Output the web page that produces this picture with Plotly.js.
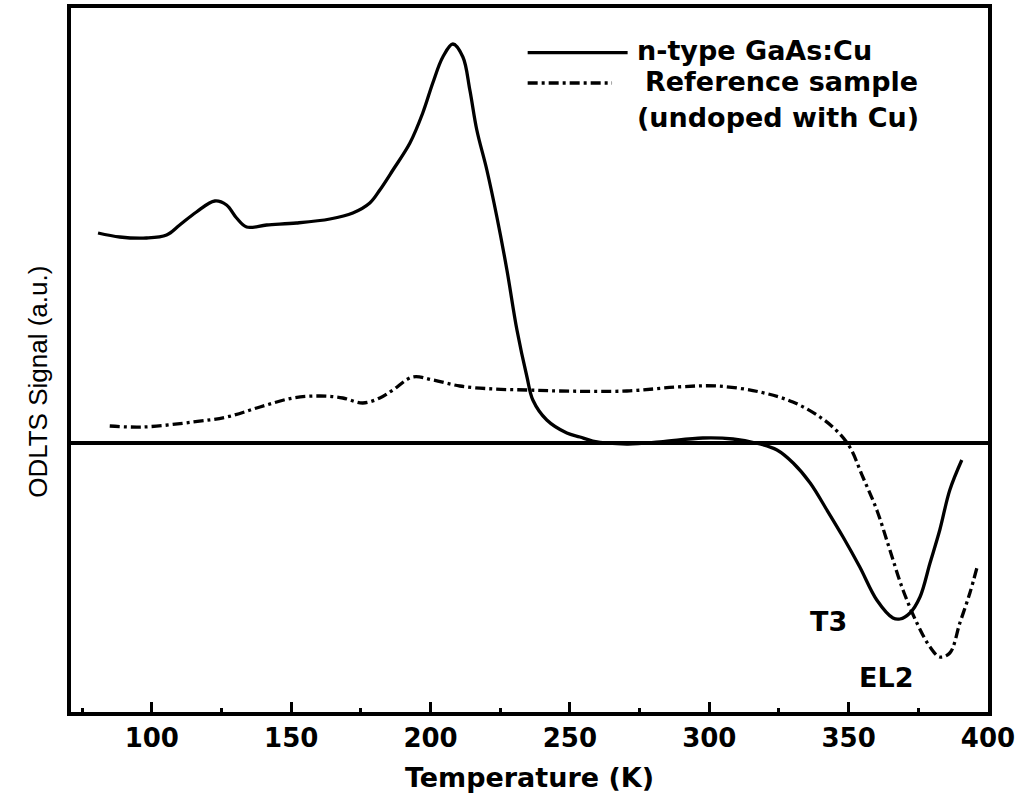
<!DOCTYPE html>
<html>
<head>
<meta charset="utf-8">
<script src="https://cdn.plot.ly/plotly-3.0.1.min.js"></script>
<style>
  html, body { margin: 0; padding: 0; background: #fff; }
  #chart { width: 1026px; height: 796px; }
</style>
</head>
<body>
<div id="chart"></div>
<script>
// n-type GaAs:Cu (solid)
const tempCu = [80.7, 88.5, 98.1, 105.3, 110.0, 116.0, 122.6, 126.8, 130.4, 134.0, 141.2, 151.9, 163.9, 172.1, 178.2, 181.8, 186.5, 192.6, 197.2, 200.8, 204.4, 208.0, 211.6, 214.1, 216.6, 220.2, 223.8, 227.4, 231.0, 234.6, 236.7, 241.7, 248.9, 253.6, 258.2, 270.4, 282.3, 297.7, 308.5, 318.2, 324.3, 330.1, 336.2, 342.2, 348.0, 354.0, 360.1, 365.9, 368.4, 372.0, 375.6, 379.2, 382.7, 386.3, 390.6];
const signalCu = [2.10, 2.06, 2.05, 2.08, 2.18, 2.31, 2.42, 2.38, 2.25, 2.16, 2.18, 2.20, 2.24, 2.30, 2.40, 2.53, 2.73, 3.00, 3.30, 3.60, 3.86, 3.99, 3.86, 3.53, 3.13, 2.73, 2.26, 1.73, 1.13, 0.66, 0.43, 0.23, 0.10, 0.06, 0.02, -0.01, 0.01, 0.05, 0.04, -0.01, -0.07, -0.20, -0.40, -0.67, -0.94, -1.24, -1.57, -1.75, -1.76, -1.70, -1.54, -1.20, -0.87, -0.47, -0.17];

// Reference sample (undoped with Cu) (dash-dot)
const tempRef = [84.9, 96.8, 114.7, 126.9, 138.8, 150.6, 160.3, 168.5, 175.7, 181.8, 186.5, 193.6, 200.8, 210.5, 222.4, 234.6, 246.4, 270.4, 288.4, 302.7, 318.2, 330.0, 339.7, 345.8, 350.4, 355.1, 360.1, 364.8, 369.5, 374.5, 379.2, 382.7, 386.3, 389.9, 393.5, 396.0];
const signalRef = [0.17, 0.16, 0.21, 0.26, 0.36, 0.45, 0.47, 0.45, 0.40, 0.45, 0.53, 0.66, 0.63, 0.57, 0.54, 0.53, 0.52, 0.52, 0.56, 0.57, 0.51, 0.41, 0.26, 0.12, -0.04, -0.34, -0.67, -1.07, -1.47, -1.80, -2.04, -2.14, -2.10, -1.80, -1.50, -1.25];

const xTickVals = [100, 150, 200, 250, 300, 350, 400];
const xTickText = ["100", "150", "200", "250", "300", "350", "400"];
const seriesNames = ["n-type GaAs:Cu", "Reference sample", "(undoped with Cu)"];
const peakLabels = ["T3", "EL2"];
const yTitle = "ODLTS Signal (a.u.)";

const txtFont = {family: "DejaVu Sans", size: 27, color: "#000", weight: "bold"};

const traces = [
  {x: tempCu, y: signalCu, type: "scatter", mode: "lines", name: seriesNames[0],
   line: {color: "#000", width: 3.3, shape: "spline", smoothing: 1}, showlegend: false},
  {x: tempRef, y: signalRef, type: "scatter", mode: "lines", name: seriesNames[1],
   line: {color: "#000", width: 3.3, dash: "10px,4px,3px,4px", shape: "spline", smoothing: 1}, showlegend: false}
];

const layout = {
  width: 1026, height: 796,
  margin: {l: 71, r: 38, t: 8, b: 84},
  paper_bgcolor: "#fff", plot_bgcolor: "#fff",
  showlegend: false,
  xaxis: {
    range: [71, 400], tickvals: xTickVals, ticktext: xTickText,
    ticks: "inside", ticklen: 10, tickwidth: 3, tickcolor: "#000",
    minor: {dtick: 25, tick0: 0, ticks: "inside", ticklen: 4, tickwidth: 3, tickcolor: "#000"},
    showline: true, linewidth: 4, linecolor: "#000", mirror: true,
    showgrid: false, zeroline: false,
    ticklabelstandoff: 0,
    tickfont: {family: "DejaVu Sans", size: 26, color: "#000", weight: "bold"},
    title: {text: "Temperature (K)", standoff: 17, font: {family: "DejaVu Sans", size: 27, color: "#000", weight: "bold"}}
  },
  yaxis: {
    range: [-2.69, 4.35],
    showticklabels: false, ticks: "",
    showline: true, linewidth: 4, linecolor: "#000", mirror: true,
    showgrid: false,
    zeroline: true, zerolinewidth: 4, zerolinecolor: "#000"
  },
  shapes: [
    {type: "line", xref: "paper", yref: "paper", x0: 0.498, x1: 0.607, y0: 0.9365, y1: 0.9365, line: {color: "#000", width: 3.3}},
    {type: "line", xref: "paper", yref: "paper", x0: 0.498, x1: 0.590, y0: 0.8935, y1: 0.8935, line: {color: "#000", width: 3.3, dash: "10px,4px,3px,4px"}}
  ],
  annotations: [
    {text: yTitle, xref: "paper", yref: "paper", x: -0.036, y: 0.469, xanchor: "center", yanchor: "middle", textangle: -90, showarrow: false,
     font: {family: "Liberation Sans", size: 26, color: "#000"}},
    {text: seriesNames[0], xref: "paper", yref: "paper", x: 0.615, y: 0.939, xanchor: "left", yanchor: "middle", showarrow: false, font: txtFont},
    {text: seriesNames[1], xref: "paper", yref: "paper", x: 0.624, y: 0.895, xanchor: "left", yanchor: "middle", showarrow: false, font: txtFont},
    {text: seriesNames[2], xref: "paper", yref: "paper", x: 0.615, y: 0.8445, xanchor: "left", yanchor: "middle", showarrow: false, font: txtFont},
    {text: peakLabels[0], xref: "paper", yref: "paper", x: 0.8266, y: 0.129, xanchor: "center", yanchor: "middle", showarrow: false, font: txtFont},
    {text: peakLabels[1], xref: "paper", yref: "paper", x: 0.8888, y: 0.0497, xanchor: "center", yanchor: "middle", showarrow: false, font: txtFont}
  ]
};

Plotly.newPlot("chart", traces, layout, {displayModeBar: false, staticPlot: true});
</script>
</body>
</html>
